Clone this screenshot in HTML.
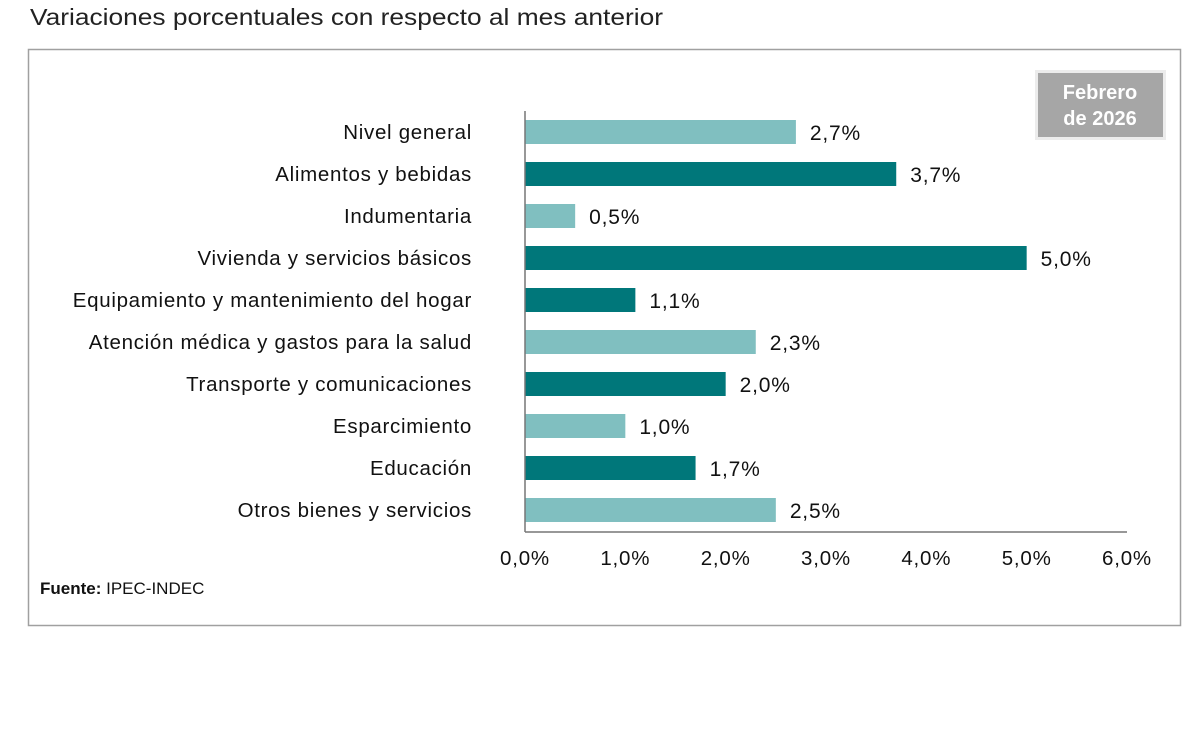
<!DOCTYPE html>
<html><head><meta charset="utf-8"><style>
body{margin:0;background:#fff;width:1200px;height:740px;overflow:hidden;font-family:"Liberation Sans",sans-serif}
</style></head><body>
<svg id="chart" width="1200" height="740" xmlns="http://www.w3.org/2000/svg">
<text x="30" y="25" font-size="23" fill="#222" textLength="633" lengthAdjust="spacingAndGlyphs" font-family="Liberation Sans, sans-serif">Variaciones porcentuales con respecto al mes anterior</text>
<rect x="28.5" y="49.5" width="1152" height="576" fill="#fff" stroke="#a0a0a0" stroke-width="1.5"/>
<rect x="1035" y="70" width="131" height="70" fill="#ececec"/>
<rect x="1038" y="73" width="125" height="64" fill="#a6a6a6"/>
<text x="1100" y="99" font-size="20" font-weight="bold" fill="#fff" text-anchor="middle">Febrero</text>
<text x="1100" y="125" font-size="20" font-weight="bold" fill="#fff" text-anchor="middle">de 2026</text>
<g id="plot"></g>
<text x="40" y="594" font-size="17" fill="#111"><tspan font-weight="bold">Fuente:</tspan> IPEC-INDEC</text>
</svg>
<script>
const categories=["Nivel general","Alimentos y bebidas","Indumentaria","Vivienda y servicios básicos","Equipamiento y mantenimiento del hogar","Atención médica y gastos para la salud","Transporte y comunicaciones","Esparcimiento","Educación","Otros bienes y servicios"];
const values=[2.7,3.7,0.5,5.0,1.1,2.3,2.0,1.0,1.7,2.5];
const shades=["light","dark","light","dark","dark","light","dark","light","dark","light"];
const ticks=[0,1,2,3,4,5,6];
const NS="http://www.w3.org/2000/svg";
const g=document.getElementById("plot");
const x0=525,x1=1127,xmax=6,yTop=111,band=42;
const x=v=>x0+(x1-x0)*v/xmax;
const yc=i=>yTop+band*i+band/2;
const fmt=v=>v.toFixed(1).replace(".",",")+"%";
function mk(tag,attrs){const e=document.createElementNS(NS,tag);for(const k in attrs)e.setAttribute(k,attrs[k]);g.appendChild(e);return e;}
categories.forEach((c,i)=>{
 const b=mk("rect",{x:x0,y:yc(i)-12,width:x(values[i])-x0,height:24,fill:shades[i]==="dark"?"#00777a":"#80bfc0"});
 
 
 const l=mk("text",{x:472,y:yc(i)+7,"font-size":20.5,"letter-spacing":0.7,fill:"#111","text-anchor":"end"});l.textContent=c;
 
 
 const v=mk("text",{x:x(values[i])+14,y:yc(i)+8,"font-size":21,"letter-spacing":0.8,fill:"#111"});v.textContent=fmt(values[i]);
 
 
});
const ya=mk("line",{x1:x0,y1:yTop,x2:x0,y2:532,stroke:"#777","stroke-width":1.5});


const xa=mk("line",{x1:x0,y1:532,x2:x1,y2:532,stroke:"#777","stroke-width":1.5});


ticks.forEach(t=>{
 const tl=mk("text",{x:x(t),y:565,"font-size":20.5,"letter-spacing":0.8,fill:"#111","text-anchor":"middle"});tl.textContent=fmt(t);
 
 
});
</script>
</body></html>
